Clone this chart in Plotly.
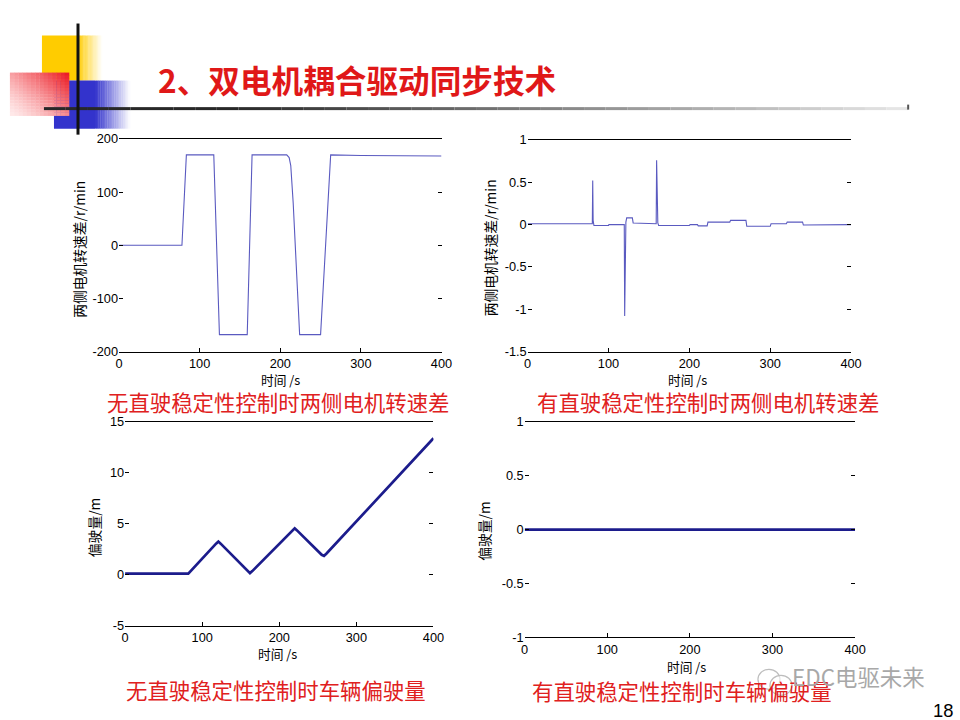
import plotly.graph_objects as go

W, H = 960, 720
# measured mapping between figure pixels and the returned picture (empirical correction)
KX, BX = 0.983, 7.1
KY, BY = 0.978, 7.5
S = 1 / 0.98  # font/size correction for the same mapping

# ---------------- data ----------------
t1 = [0, 78, 83.5, 117.5, 124.5, 159, 165, 208, 211, 213, 216, 220, 224, 250, 262.5, 300, 400]
v1 = [0, 0, 170, 170, -168, -168, 170, 170, 165, 150, 80, -60, -168, -168, 170, 169, 168]

t2 = [0, 80, 80.5, 81, 82, 100, 100.5, 119.5, 120, 120.5, 121.5, 122.5, 129.5, 130.5, 159,
      159.5, 160, 161, 162, 200, 201, 210, 211, 222, 223, 250, 251, 270, 271, 300, 301, 320,
      321, 340, 341, 360, 361, 400]
v2 = [0.01, 0.01, 0.52, 0.05, -0.01, -0.01, 0, 0, -1.08, -0.4, 0.03, 0.08, 0.08, 0.02, 0.01,
      0.76, 0.3, 0.02, -0.01, -0.01, 0, 0, -0.015, -0.015, 0.03, 0.03, 0.05, 0.05, -0.02, -0.02,
      0.01, 0.01, 0.03, 0.03, -0.005, -0.005, 0, 0]

t3 = [0, 82, 118, 121, 124, 159, 162, 165, 217, 220, 223, 255, 258, 261, 400]
v3 = [0.1, 0.1, 3.05, 3.25, 3.05, 0.3, 0.15, 0.35, 4.4, 4.55, 4.35, 1.95, 1.85, 2.05, 13.4]

t4 = [0, 400]
v4 = [0, 0]

xticks = [0, 100, 200, 300, 400]
yticks1 = [-200, -100, 0, 100, 200]
yticks2 = [-1.5, -1, -0.5, 0, 0.5, 1]
yticks3 = [-5, 0, 5, 10, 15]
yticks4 = [-1, -0.5, 0, 0.5, 1]

title_text = "2、双电机耦合驱动同步技术"
captions = ["无直驶稳定性控制时两侧电机转速差", "有直驶稳定性控制时两侧电机转速差",
            "无直驶稳定性控制时车辆偏驶量", "有直驶稳定性控制时车辆偏驶量"]
ylabels = ["两侧电机转速差/r/min", "两侧电机转速差/r/min", "偏驶量/m", "偏驶量/m"]
xlabel = "时间 /s"

# ---------------- helpers ----------------
def px(x):
    return ((x - BX) / KX) / W

def py(y):
    return 1 - ((y - BY) / KY) / H

def fmt(v):
    return "%g" % v  # plain ASCII hyphen for negatives, as in the reference

CJK = "Noto Sans CJK SC"
LAT = "Liberation Sans, Arial"

fig = go.Figure()

panels = [
    # (x0, x1, ytop, ybottom, yrange, yticks, t, v, color, width)
    (122, 444, 138.3, 350.7, [-200, 200], yticks1, t1, v1, "#5a5ac0", 1.1),
    (530, 853, 139.3, 350.7, [-1.5, 1], yticks2, t2, v2, "#5a5ac0", 1.1),
    (128, 436, 421, 624.3, [-5, 15], yticks3, t3, v3, "#1c1c8c", 2.7),
    (527, 857, 421, 636, [-1, 1], yticks4, t4, v4, "#1c1c8c", 2.9),
]

for i, (x0, x1, yt, yb, yr, yt_vals, t, v, col, lw) in enumerate(panels, start=1):
    sfx = "" if i == 1 else str(i)
    fig.add_trace(go.Scatter(x=t, y=v, mode="lines", line=dict(color=col, width=lw),
                             xaxis="x" + sfx, yaxis="y" + sfx, showlegend=False,
                             hoverinfo="skip"))
    fig.layout["xaxis" + sfx] = dict(
        domain=[px(x0), px(x1)], range=[0, 400], tickvals=xticks,
        ticktext=[fmt(a) for a in xticks], anchor="y" + sfx,
        showline=True, mirror=True, linecolor="black", linewidth=1,
        ticks="inside", ticklen=4, tickcolor="black", showgrid=False, zeroline=False,
        tickfont=dict(family=LAT, size=12.5 * S, color="black"), fixedrange=True)
    fig.layout["yaxis" + sfx] = dict(
        domain=[py(yb), py(yt)], range=yr, tickvals=yt_vals,
        ticktext=[fmt(a) for a in yt_vals], anchor="x" + sfx,
        showline=False, mirror="ticks", ticks="inside", ticklen=4, tickcolor="black",
        showgrid=False, zeroline=False,
        tickfont=dict(family=LAT, size=12.5 * S, color="black"), fixedrange=True)

annotations = []
# title
annotations.append(dict(x=px(159), y=py(78), xref="paper", yref="paper", xanchor="left",
                        yanchor="middle", showarrow=False, text="<b>" + title_text + "</b>",
                        font=dict(family=CJK, size=31 * S, color="#e01818")))
# captions
cap_pos = [(281, 401), (711, 401), (279, 688), (684, 689)]
for (cx, cy), txt in zip(cap_pos, captions):
    annotations.append(dict(x=px(cx), y=py(cy), xref="paper", yref="paper", xanchor="center",
                            yanchor="middle", showarrow=False, text=txt,
                            font=dict(family=CJK, size=21 * S, color="#e02020")))
# x labels
xl_pos = [(283, 379), (690, 379), (280, 652), (689, 665)]
for cx, cy in xl_pos:
    annotations.append(dict(x=px(cx), y=py(cy), xref="paper", yref="paper", xanchor="center",
                            yanchor="middle", showarrow=False, text=xlabel,
                            font=dict(family=CJK, size=12.5 * S, color="black")))
# y labels
yl_pos = [(82, 249), (492, 247), (97, 527), (487, 530)]
for (cx, cy), txt in zip(yl_pos, ylabels):
    annotations.append(dict(x=px(cx), y=py(cy), xref="paper", yref="paper", xanchor="center",
                            yanchor="middle", showarrow=False, text=txt, textangle=-90,
                            font=dict(family=CJK, size=13.5 * S, color="black")))
# watermark & page number
annotations.append(dict(x=px(792), y=py(675), xref="paper", yref="paper", xanchor="left",
                        yanchor="middle", showarrow=False, text="EDC电驱未来",
                        font=dict(family=CJK, size=22 * S, color="#a8a8a8")))
annotations.append(dict(x=px(945), y=py(709), xref="paper", yref="paper", xanchor="center",
                        yanchor="middle", showarrow=False, text="18",
                        font=dict(family=LAT, size=18 * S, color="black")))

shapes = []

def rect(x0, y0, x1, y1, color, opacity=1.0):
    shapes.append(dict(type="rect", xref="paper", yref="paper", x0=px(x0), x1=px(x1),
                       y0=py(y1), y1=py(y0), fillcolor=color, line=dict(width=0),
                       opacity=opacity, layer="above"))

def mix(c1, c2, f):
    return "rgb(%d,%d,%d)" % tuple(round(a + (b - a) * f) for a, b in zip(c1, c2))

WHITE = (255, 255, 255)
# yellow square: solid then fade right
YEL = (255, 204, 0)
rect(45, 35, 80, 80, mix(YEL, WHITE, 0))
n = 20
for k in range(n):
    xa = 80 + 25 * k / n
    xb = 80 + 25 * (k + 1) / n + 0.3
    rect(xa, 35, xb, 80, mix(YEL, WHITE, (k + 0.5) / n))
# blue square
BLU = (51, 51, 204)
rect(57, 80, 98, 128, mix(BLU, WHITE, 0))
for k in range(n):
    xa = 98 + 35 * k / n
    xb = 98 + 35 * (k + 1) / n + 0.3
    rect(xa, 80, xb, 128, mix(BLU, WHITE, (k + 0.5) / n))
# red square: diagonal gradient, strongest at top-right
RED = (235, 20, 30)
m = 14
for a in range(m):
    for b in range(m):
        xa = 13 + 59 * a / m
        xb = 13 + 59 * (a + 1) / m + 0.3
        ya = 72 + 43 * b / m
        yb = 72 + 43 * (b + 1) / m + 0.3
        fx = (a + 0.5) / m
        fy = (b + 0.5) / m
        strength = max(0.0, min(1.0, 0.55 * fx + 0.45 * (1 - fy)))
        f = 1 - strength ** 1.3
        rect(xa, ya, xb, yb, mix(RED, (255, 235, 235), f))
# horizontal gradient line
segs = 40
for k in range(segs):
    xa = 47 + (910 - 47) * k / segs
    xb = 47 + (910 - 47) * (k + 1) / segs
    f = max(0.0, (k / segs - 0.2) / 0.8)
    shapes.append(dict(type="line", xref="paper", yref="paper", x0=px(xa), x1=px(xb),
                       y0=py(108), y1=py(108),
                       line=dict(color=mix((40, 40, 40), (235, 235, 235), f), width=3),
                       layer="above"))
# vertical black line
shapes.append(dict(type="line", xref="paper", yref="paper", x0=px(81), x1=px(81),
                   y0=py(23), y1=py(134), line=dict(color="#111111", width=3), layer="above"))
# tiny dot at line end
rect(909, 104, 911, 109, "#555555")
# wechat-like icon in watermark
shapes.append(dict(type="circle", xref="paper", yref="paper", x0=px(760), x1=px(782),
                   y0=py(688), y1=py(668), line=dict(color="#bdbdbd", width=1.2),
                   layer="above"))
shapes.append(dict(type="circle", xref="paper", yref="paper", x0=px(772), x1=px(794),
                   y0=py(694), y1=py(674), line=dict(color="#bdbdbd", width=1.2),
                   fillcolor="rgba(255,255,255,0.6)", layer="above"))

fig.update_layout(width=W, height=H, margin=dict(l=0, r=0, t=0, b=0),
                  paper_bgcolor="white", plot_bgcolor="white",
                  annotations=annotations, shapes=shapes, showlegend=False)

fig.write_html("out.html", config={"displayModeBar": False},
               post_script="document.body.style.margin='0';"
                           "document.documentElement.style.overflow='hidden';")
